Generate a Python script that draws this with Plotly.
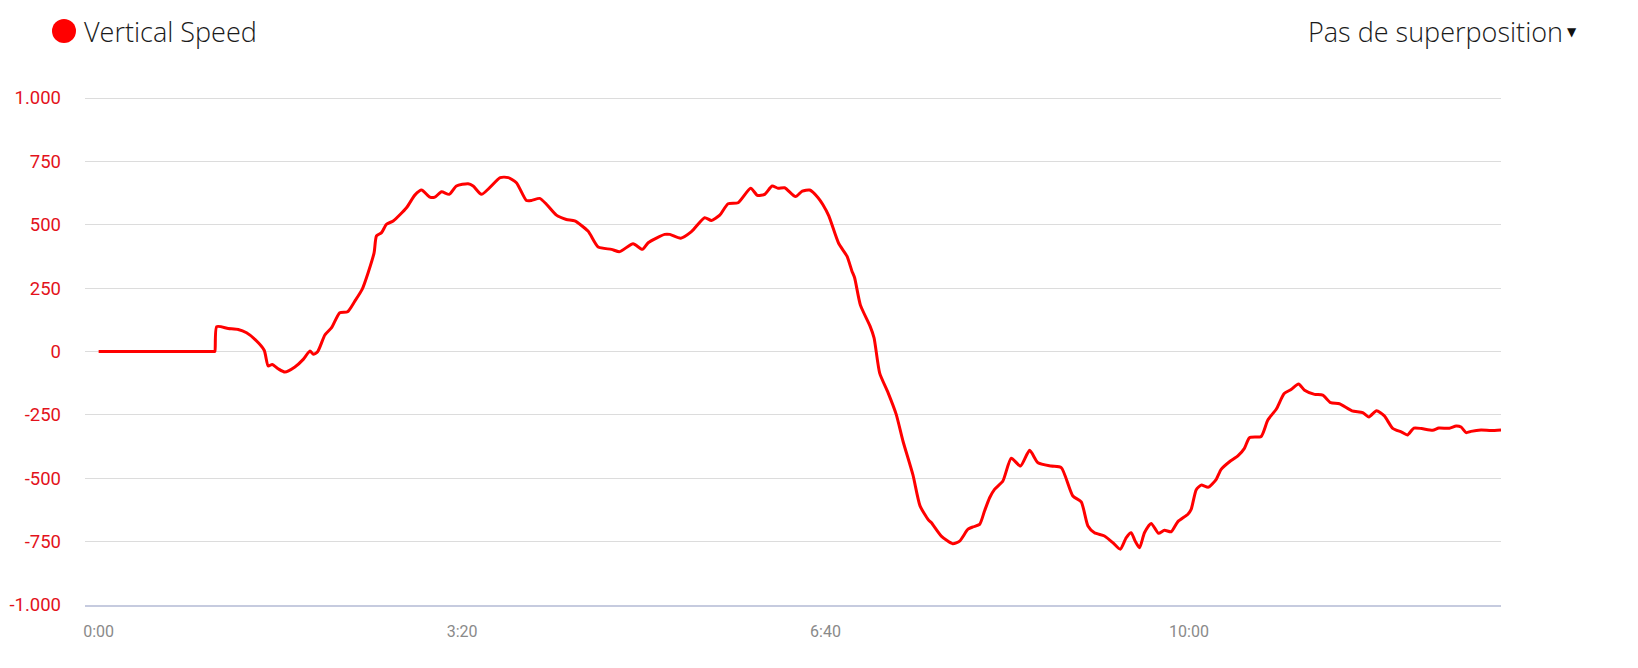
"""
Vertical speed over elapsed time
"""

import plotly.graph_objects as go

# elapsed time in seconds
TIME_S = [
    0, 8, 16, 24, 32, 40, 48, 56, 62, 63.6, 64, 65, 71.3, 76.8, 81.4, 86, 91.1, 93.3, 95.5,
    98.8, 102.5, 108, 112.6, 116.3, 118.1,
    120.5, 124.5, 128.2, 132.7, 137, 141, 145, 148.3, 151.6, 152.9, 155.7, 158.4, 162.1, 169.4,
    174, 177.7, 182.3, 185, 188.7, 192.9, 196.9, 203.3, 206.1, 210.7, 221, 225.4, 229.9, 235.4,
    238.2, 242.7, 246.4, 251.9, 257.4, 262, 269.3, 274.9, 282.2, 286.7, 294.1, 299.2, 302.4,
    311.5, 314.3, 320.3, 326.2, 333.5, 337.2, 341.8, 346.4, 351.9, 358.8, 362.5, 366.5, 370.6,
    373.9, 377.5, 383.5, 387.2, 391.3, 395.9, 398.5, 401.8, 407.2, 411.8, 414.5, 416, 419.2,
    424.5, 426.7, 429.8, 434.4, 438.9, 442.6, 448.1, 452, 456.6, 458.2, 463.7, 470, 473.8,
    478.4, 481.1, 484.8, 487.5, 490.3, 493, 497.6, 502.2, 507.3, 512.3, 516.9, 524.2, 529.7,
    536.1, 540.7, 544.4, 548, 553.5, 558.1, 562.2, 565.5, 568.2, 570.4, 572.8, 575.5, 579.2,
    583.2, 586.5, 590.2, 593.9, 599.4, 601.2, 604, 606.7, 610.7, 615, 617.7, 622.3, 626.9,
    630.5, 633.3, 639.7, 643.4, 648, 652.4, 656.2, 660.3, 663.6, 669.1, 673.6, 678, 682.8,
    689.7, 695.6, 699, 703.2, 707.5, 712.1, 717, 720.2, 723.8, 728, 734.1, 737.5, 743.3, 747,
    749.7, 752.5, 755.2, 760.7, 766.2, 771.7,
]
VERTICAL_SPEED = [
    0, 0, 0, 0, 0, 0, 0, 0, 0, 0, 0, 98, 91, 87, 74, 48, 5, -57, -51,
    -68, -81, -61, -31, 2, -11,
    -1, 65, 94, 153, 157, 199, 245, 311, 390, 456, 469, 502, 515, 567,
    617, 637, 609, 609, 630, 620, 653, 662, 653, 620, 686, 686, 666, 596,
    596, 604, 581, 538, 521, 515, 475, 412, 403, 394, 425, 403, 429,
    462, 462, 447, 473, 528, 517, 538, 583, 587, 644, 616, 620, 653,
    644, 646, 611, 633, 637, 607, 580, 535, 427, 376, 318, 291, 183,
    100, 54, -85, -162, -248, -353, -487, -609, -664, -675, -728, -758, -748,
    -701, -692, -682, -629, -577, -544, -511, -421, -452, -390, -439, -452, -458,
    -570, -593, -688, -715, -728, -754, -780, -734, -715, -748, -774, -715, -678,
    -717, -705, -711, -671, -642, -623, -545, -527, -535, -504, -465, -435, -412,
    -382, -340, -335, -270, -228, -166, -150, -128, -153, -169, -172, -202, -206,
    -234, -241, -258, -234, -254, -303, -318, -329, -302, -304, -311, -302, -303, -294,
    -298, -320, -315, -310, -312, -310,
]

X_TICK_VALUES = [0, 200, 400, 600]
X_TICK_LABELS = ["0:00", "3:20", "6:40", "10:00"]
Y_TICK_VALUES = [1000, 750, 500, 250, 0, -250, -500, -750, -1000]
Y_TICK_LABELS = ["1.000", "750", "500", "250", "0", "-250", "-500", "-750", "-1.000"]

SERIES_NAME = "Vertical Speed"
OVERLAY_LABEL = "Pas de superposition"

RED = "#ff0000"
GRID = "#dcdcdc"
TITLE_FONT = {"family": "Open Sans", "size": 27, "color": "#1a1a1a", "weight": 300}

# figure geometry, in pixels
WIDTH, HEIGHT = 1638, 668
MARGIN = {"l": 77, "r": 145, "t": 89, "b": 71}
PLOT_W = WIDTH - MARGIN["l"] - MARGIN["r"]
PLOT_H = HEIGHT - MARGIN["t"] - MARGIN["b"]


def px_to_paper(x_px: float, y_px: float) -> tuple[float, float]:
    """Converts a pixel position on the page to paper coordinates."""
    return (x_px - MARGIN["l"]) / PLOT_W, (HEIGHT - MARGIN["b"] - y_px) / PLOT_H


trace = go.Scatter(
    x=TIME_S,
    y=VERTICAL_SPEED,
    mode="lines",
    name=SERIES_NAME,
    line={"color": RED, "width": 3, "shape": "spline", "smoothing": 0.6},
    showlegend=False,
    hoverinfo="skip",
)

fig = go.Figure(data=[trace])

legend_x, legend_y = px_to_paper(56, 23)
text_x, _ = px_to_paper(74, 23)
menu_x, _ = px_to_paper(1557, 23)
arrow_x, arrow_y = px_to_paper(1564, 24)

fig.add_shape(
    type="circle",
    xref="paper",
    yref="paper",
    xsizemode="pixel",
    ysizemode="pixel",
    xanchor=legend_x,
    yanchor=legend_y,
    x0=-12,
    x1=12,
    y0=-12,
    y1=12,
    fillcolor=RED,
    line={"width": 0},
)
fig.add_annotation(
    text=SERIES_NAME,
    xref="paper",
    yref="paper",
    x=text_x,
    y=legend_y,
    xanchor="left",
    yanchor="middle",
    showarrow=False,
    font=TITLE_FONT,
)
fig.add_annotation(
    text=OVERLAY_LABEL,
    xref="paper",
    yref="paper",
    x=menu_x,
    y=legend_y,
    xanchor="right",
    yanchor="middle",
    showarrow=False,
    font=TITLE_FONT,
)
fig.add_annotation(
    text="▼",
    xref="paper",
    yref="paper",
    x=arrow_x,
    y=arrow_y,
    xanchor="center",
    yanchor="middle",
    showarrow=False,
    font={"family": "DejaVu Sans", "size": 12, "color": "#111111"},
)

fig.update_layout(
    width=WIDTH,
    height=HEIGHT,
    autosize=False,
    margin=MARGIN,
    paper_bgcolor="white",
    plot_bgcolor="white",
    font={"family": "Roboto"},
    xaxis={
        "range": [-7.5, 771.7],
        "tickvals": X_TICK_VALUES,
        "ticktext": X_TICK_LABELS,
        "showgrid": False,
        "zeroline": False,
        "showline": True,
        "linecolor": "#c6cbdf",
        "linewidth": 2,
        "ticks": "",
        "ticklabelstandoff": 11,
        "tickfont": {"family": "Roboto", "size": 16, "color": "#8a8a8a"},
        "automargin": False,
        "fixedrange": True,
    },
    yaxis={
        "range": [-1000, 1004],
        "tickvals": Y_TICK_VALUES,
        "ticktext": Y_TICK_LABELS,
        "showgrid": True,
        "gridcolor": GRID,
        "gridwidth": 1,
        "zeroline": False,
        "showline": False,
        "ticks": "",
        "ticklabelstandoff": 23,
        "tickfont": {"family": "Roboto", "size": 18.5, "color": "#e3121b"},
        "automargin": False,
        "fixedrange": True,
    },
)

fig.write_html("out.html")
